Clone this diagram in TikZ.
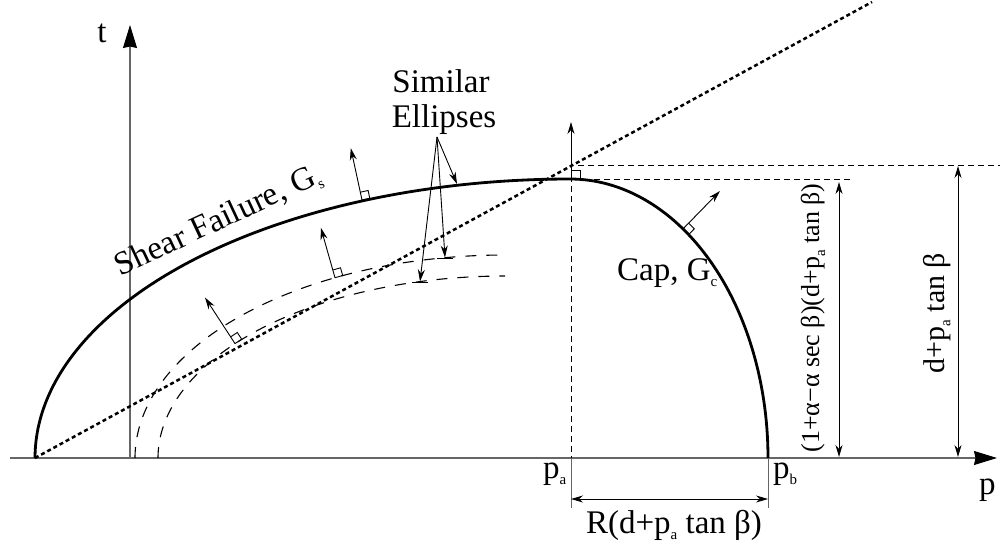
\documentclass[tikz,border=0pt]{standalone}
\usepackage{fontspec}
\setmainfont{Liberation Serif}
\usetikzlibrary{arrows.meta}
\newcommand{\sbx}[1]{\raisebox{-6pt}{\fontsize{15}{15}\selectfont #1}}
\begin{document}
\begin{tikzpicture}[x=1pt,y=-1pt,
  axis/.style={line width=1.1pt, draw=black!60, -{Stealth[length=23pt,width=14pt,inset=1.5pt,color=black]}},
  curve/.style={line width=2.8pt},
  ell/.style={line width=1.1pt, dash pattern=on 11pt off 10pt},
  dl/.style={line width=1pt, dash pattern=on 6pt off 4pt},
  dots/.style={line width=2.5pt, dash pattern=on 4pt off 3pt},
  nrm/.style={line width=0.9pt, -{Stealth[length=12pt,width=7pt]}},
  sq/.style={line width=0.9pt},
  dim/.style={line width=0.9pt, {Stealth[length=12pt,width=7pt]}-{Stealth[length=12pt,width=7pt]}},
  ext/.style={line width=0.9pt, draw=black!60},
  lab/.style={font=\fontsize{33}{37}\selectfont, inner sep=0pt},
]
\useasboundingbox (0,0) rectangle (1000,548);
% axes
\coordinate (O) at (130,458);
\coordinate (xs) at (10,458);
\coordinate (xe) at (997,458);
\coordinate (ye) at (130,25);
\draw[axis] (xs) -- (xe);
\draw[axis] (O) -- (ye);
% dotted line
\coordinate (D0) at (35,458);
\coordinate (D1) at (872,2);
\draw[dots] (D0) -- (D1);
% shear + cap
\draw[curve] plot[domain=180:90,samples=120] ({570+535*cos(\x)},{458-279*sin(\x)})
  -- plot[domain=90:0,samples=90] ({570+198*cos(\x)},{458-279*sin(\x)});
% similar ellipses
\draw[ell] plot[domain=180:90,samples=90] ({505+370*cos(\x)},{458-203*sin(\x)});
\draw[ell] plot[domain=180:90,samples=90] ({505+347*cos(\x)},{458-182*sin(\x)});
% corner
\coordinate (A) at (571,179);
\coordinate (Ad) at (571,166);
\coordinate (Au) at (571,122);
\coordinate (Ab) at (571,458);
\coordinate (Ae) at (571,508);
\draw[dl] (Ad) -- (Ab);
\draw[ext] (Ab) -- (Ae);
\draw[nrm] (A) -- (Au);
\draw[sq] (571,179) rectangle (580,170);
\draw[dl] (578,166) -- (1000,166);
\draw[dl] (584,179) -- (850,179);
% dimensions
\coordinate (B) at (768,458);
\coordinate (Be) at (768,508);
\draw[ext] (B) -- (Be);
\draw[dim] (571,499) -- (768,499);
\draw[dim] (839,182) -- (839,457);
\draw[dim] (958,166) -- (958,457);
% normals
\coordinate (N1) at (362,200);
\draw[nrm] (N1) -- (350.8,148.2);
\draw[sq] (362,200) -- (369.8,198.3) -- (368.1,190.5) -- (360.3,192.2);
\coordinate (N2) at (335,277.7);
\draw[nrm] (N2) -- (320.8,227.7);
\draw[sq] (335,277.7) -- (342.7,275.5) -- (340.5,267.8) -- (332.8,270.0);
\coordinate (N3) at (235,343.6);
\draw[nrm] (N3) -- (205,297.5);
\draw[sq] (235,343.6) -- (241.7,339.2) -- (237.3,332.5) -- (230.6,336.9);
\coordinate (N4) at (683,228.9);
\draw[nrm] (N4) -- (720,191);
\draw[sq] (683,228.9) -- (688.7,234.5) -- (694.3,228.8) -- (688.6,223.2);
% similar ellipses pointers
\coordinate (S) at (437,137);
\draw[nrm] (S) -- (457,184);
\draw[nrm] (S) -- (445,257.5);
\draw[sq] (437,258) -- (453,258);
\draw[nrm] (S) -- (420,281.5);
\draw[sq] (412,282) -- (428,282);
% labels
\node[lab, anchor=base] (lsim) at (441,93) {Similar};
\node[lab, anchor=base] (lell) at (444,128) {Ellipses};
\node[lab, anchor=base west] (lcap) at (617,280) {Cap, G\sbx{c}};
\node[lab, anchor=base, rotate=25] (lshear) at (222,229) {Shear Failure, G\sbx{s}};
\node[lab, anchor=base west] (lpa) at (543,478) {p\sbx{a}};
\node[lab, anchor=base west] (lpb) at (773,478) {p\sbx{b}};
\node[lab, anchor=base west] (lp) at (979,494) {p};
\node[lab, anchor=base] (lt) at (102,43) {t};
\node[lab, anchor=base] (lR) at (674,533) {R(d+p\sbx{a} tan β)};
\node[lab, rotate=90, font=\fontsize{26}{30}\selectfont] (l1) at (813,318) {(1+α−α sec β)(d+p\sbx{a} tan β)};
\node[lab, rotate=90, font=\fontsize{30}{34}\selectfont] (l2) at (937,313) {d+p\sbx{a} tan β};
\end{tikzpicture}
\end{document}
